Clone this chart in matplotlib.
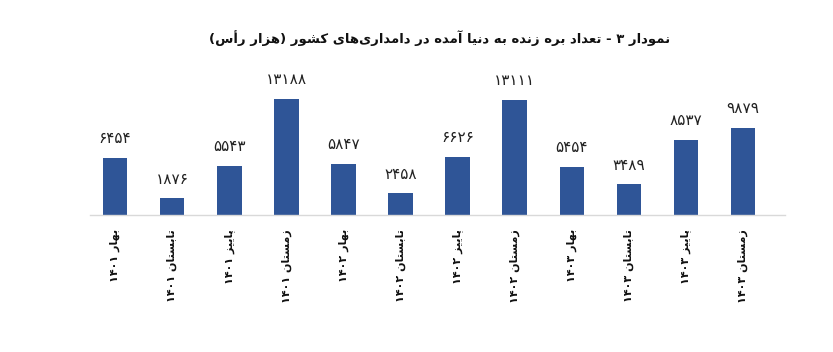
import matplotlib
matplotlib.use("Agg")
import matplotlib.pyplot as plt

# ---------------- data ----------------
seasons = ["بهار", "تابستان", "پاییز", "زمستان"] * 3
years = ["1401"] * 4 + ["1402"] * 4 + ["1403"] * 4
values = [6454, 1876, 5543, 13188, 5847, 2458, 6626, 13111, 5454, 3489, 8537, 9879]
title = "نمودار 3 - تعداد بره زنده به دنیا آمده در دامداری\u200cهای کشور (هزار رأس)"

# ---------------- simple Persian shaping ----------------
FORMS = {  # isolated, final, initial, medial
    'ا': (0xFE8D, 0xFE8E, None, None),
    'آ': (0xFE81, 0xFE82, None, None),
    'أ': (0xFE83, 0xFE84, None, None),
    'ب': (0xFE8F, 0xFE90, 0xFE91, 0xFE92),
    'پ': (0xFB56, 0xFB57, 0xFB58, 0xFB59),
    'ت': (0xFE95, 0xFE96, 0xFE97, 0xFE98),
    'ث': (0xFE99, 0xFE9A, 0xFE9B, 0xFE9C),
    'ج': (0xFE9D, 0xFE9E, 0xFE9F, 0xFEA0),
    'چ': (0xFB7A, 0xFB7B, 0xFB7C, 0xFB7D),
    'ح': (0xFEA1, 0xFEA2, 0xFEA3, 0xFEA4),
    'خ': (0xFEA5, 0xFEA6, 0xFEA7, 0xFEA8),
    'د': (0xFEA9, 0xFEAA, None, None),
    'ذ': (0xFEAB, 0xFEAC, None, None),
    'ر': (0xFEAD, 0xFEAE, None, None),
    'ز': (0xFEAF, 0xFEB0, None, None),
    'ژ': (0xFB8A, 0xFB8B, None, None),
    'س': (0xFEB1, 0xFEB2, 0xFEB3, 0xFEB4),
    'ش': (0xFEB5, 0xFEB6, 0xFEB7, 0xFEB8),
    'ص': (0xFEB9, 0xFEBA, 0xFEBB, 0xFEBC),
    'ض': (0xFEBD, 0xFEBE, 0xFEBF, 0xFEC0),
    'ط': (0xFEC1, 0xFEC2, 0xFEC3, 0xFEC4),
    'ظ': (0xFEC5, 0xFEC6, 0xFEC7, 0xFEC8),
    'ع': (0xFEC9, 0xFECA, 0xFECB, 0xFECC),
    'غ': (0xFECD, 0xFECE, 0xFECF, 0xFED0),
    'ف': (0xFED1, 0xFED2, 0xFED3, 0xFED4),
    'ق': (0xFED5, 0xFED6, 0xFED7, 0xFED8),
    'ک': (0xFB8E, 0xFB8F, 0xFB90, 0xFB91),
    'گ': (0xFB92, 0xFB93, 0xFB94, 0xFB95),
    'ل': (0xFEDD, 0xFEDE, 0xFEDF, 0xFEE0),
    'م': (0xFEE1, 0xFEE2, 0xFEE3, 0xFEE4),
    'ن': (0xFEE5, 0xFEE6, 0xFEE7, 0xFEE8),
    'ه': (0xFEE9, 0xFEEA, 0xFEEB, 0xFEEC),
    'و': (0xFEED, 0xFEEE, None, None),
    'ی': (0xFBFC, 0xFBFD, 0xFBFE, 0xFBFF),
}
FA_DIGITS = str.maketrans("0123456789", "۰۱۲۳۴۵۶۷۸۹")


def joins_next(c):
    return c in FORMS and FORMS[c][2] is not None


def shape(text):
    text = text.translate(FA_DIGITS)
    out = []
    n = len(text)
    for i, c in enumerate(text):
        if c not in FORMS:
            out.append(c)
            continue
        prev = text[i - 1] if i > 0 else ''
        nxt = text[i + 1] if i < n - 1 else ''
        jp = joins_next(prev)
        jn = joins_next(c) and nxt in FORMS
        iso, fin, ini, med = FORMS[c]
        if jp and jn:
            code = med
        elif jp:
            code = fin
        elif jn:
            code = ini
        else:
            code = iso
        out.append(chr(code))
    s = ''.join(out).replace('\u200c', '')
    # visual reorder: reverse, keep digit runs LTR, mirror parens
    runs, cur, cur_d = [], '', None
    for ch in s:
        d = ch in "۰۱۲۳۴۵۶۷۸۹"
        if cur_d is None or d == cur_d:
            cur += ch
        else:
            runs.append((cur, cur_d))
            cur = ch
        cur_d = d
    if cur:
        runs.append((cur, cur_d))
    res = ''
    for r, d in reversed(runs):
        res += r if d else r[::-1]
    return res.translate(str.maketrans("()", ")("))


# ---------------- plot ----------------
fig = plt.figure(figsize=(8.33, 3.52), dpi=100)
ax = fig.add_axes([90 / 833, (352 - 215) / 352, (785 - 90) / 833, 150 / 352])

x = list(range(len(values)))
bars = ax.bar(x, values, width=0.43, color="#2F5597", zorder=2)
ax.set_xlim(-0.44, 11.735)
ax.set_ylim(0, 13188 * 150 / 116)

for xi, v in zip(x, values):
    ax.annotate(shape(str(v)), (xi, v), xytext=(0, 8.5), textcoords="offset points",
                ha="center", va="bottom", fontsize=11, color="#222222",
                family="DejaVu Sans")

labels = [shape(f"{s} {y}") for s, y in zip(seasons, years)]
ax.set_xticks(x)
ax.set_xticklabels(labels, rotation=90, fontsize=8, fontweight="bold",
                   family="DejaVu Sans", color="#111111")
ax.tick_params(axis="x", length=0, pad=10)
ax.set_yticks([])
for sp in ["top", "right", "left"]:
    ax.spines[sp].set_visible(False)
ax.spines["bottom"].set_color("#D9D9D9")
ax.spines["bottom"].set_linewidth(1.0)

fig.text(440 / 833, 1 - 38 / 352, shape(title), ha="center", va="center",
         fontsize=9.5, fontweight="bold", family="DejaVu Sans", color="#111111")

fig.savefig("out.png", dpi=100)
